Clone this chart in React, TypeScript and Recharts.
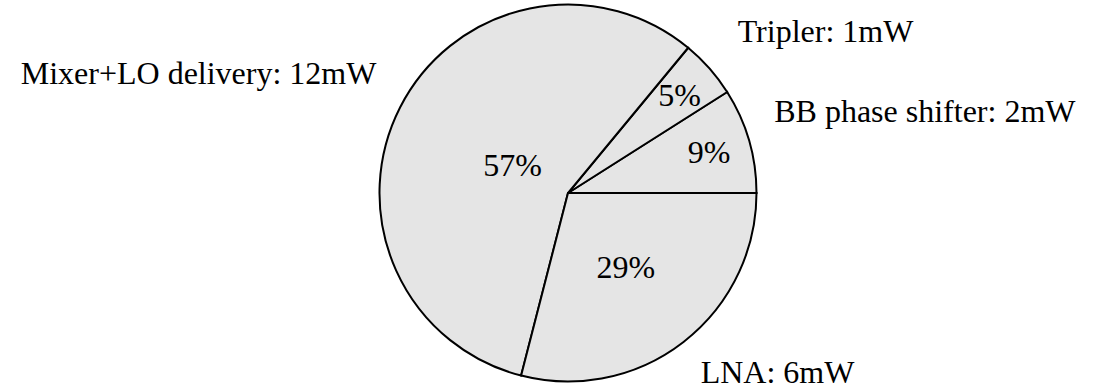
import React from 'react';
import { PieChart, Pie, Cell } from 'recharts';

const names = ['BB phase shifter', 'Tripler', 'Mixer+LO delivery', 'LNA'];
const power = ['2mW', '1mW', '12mW', '6mW'];
const percents = [9, 5, 57, 29];

const FONT = '"Liberation Serif", "DejaVu Serif", serif';
const R = 188.5;
// inner text distance as fraction of radius, per slice
const innerPos = [0.78, 0.79, 0.33, 0.5];
// nudges for the outside names
const outerDx = [-11, 0, 10, -6];
const outerDy = [-19, -12, -17, 0];

const data = names.map((name, i) => ({ name, power: power[i], value: percents[i] }));

const renderLabel = (props: any) => {
  const { cx, cy, midAngle, index } = props;
  const rad = (Math.PI / 180) * midAngle;
  const cos = Math.cos(rad);
  const sin = Math.sin(rad);
  const ri = R * innerPos[index];
  const ro = R * 1.2;
  const ox = cx + ro * cos + outerDx[index];
  const oy = cy - ro * sin + outerDy[index];
  return (
    <g>
      <text x={cx + ri * cos} y={cy - ri * sin} textAnchor="middle" dominantBaseline="central"
        fontFamily={FONT} fontSize={32} fill="#000">
        {percents[index]}%
      </text>
      <text x={ox} y={oy} textAnchor={cos >= 0 ? 'start' : 'end'} dominantBaseline="central"
        fontFamily={FONT} fontSize={32} fill="#000">
        {data[index].name}: {data[index].power}
      </text>
    </g>
  );
};

export default function App() {
  return (
    <div style={{ position: 'absolute', left: 0, top: 0, background: '#fff' }}>
      <PieChart width={1094} height={390} margin={{ top: 0, right: 0, bottom: 0, left: 0 }}>
        <Pie
          data={data}
          dataKey="value"
          cx={568}
          cy={193}
          outerRadius={R}
          startAngle={0}
          endAngle={360}
          stroke="#000"
          strokeWidth={2}
          label={renderLabel}
          labelLine={false}
          isAnimationActive={false}
        >
          {data.map((d, i) => (
            <Cell key={i} fill="#e5e5e5" />
          ))}
        </Pie>
      </PieChart>
    </div>
  );
}
